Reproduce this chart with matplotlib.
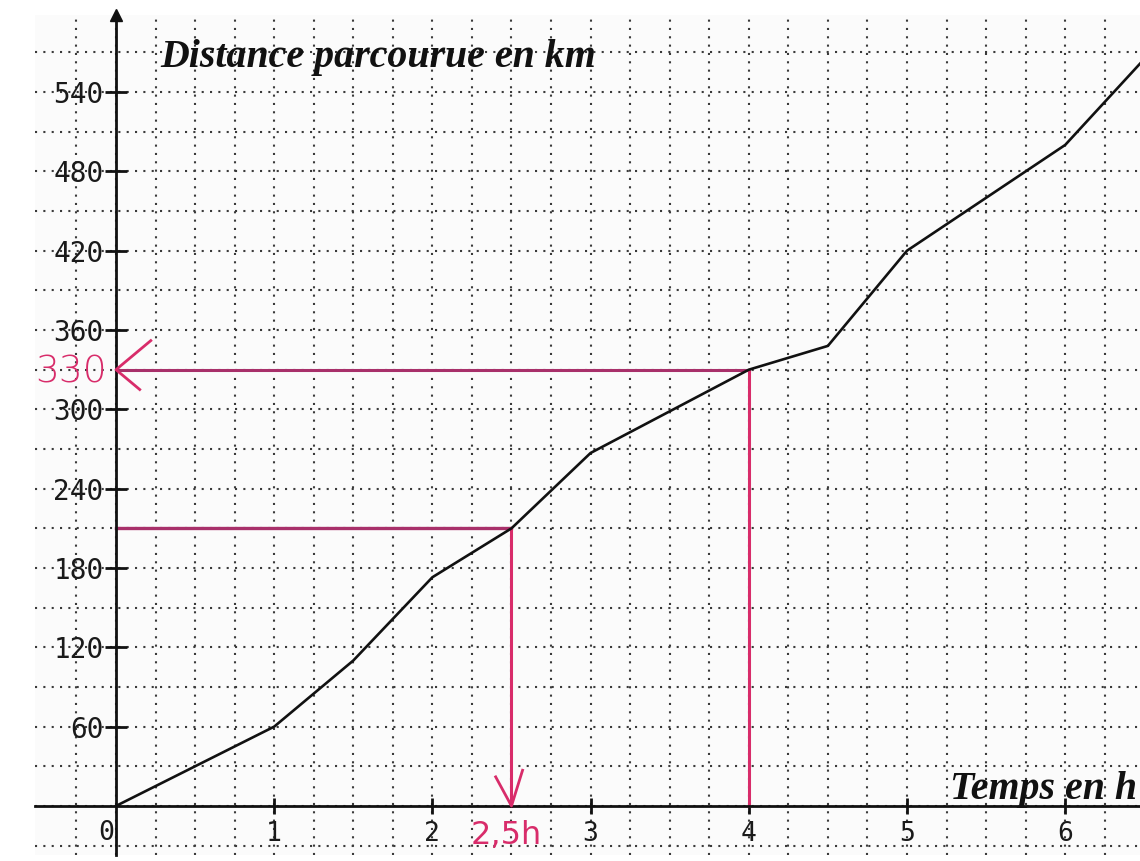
import numpy as np
import matplotlib
matplotlib.use("Agg")
import matplotlib.pyplot as plt
from matplotlib.ticker import FixedLocator

# ---- data ----
time_h = [0, 1, 1.5, 2, 2.5, 3, 4, 4.5, 5, 6, 6.5]
distance_km = [0, 60, 110, 173, 210, 267, 330, 348, 420, 500, 565]
x_tick_values = [1, 2, 3, 4, 5, 6]
y_tick_values = [60, 120, 180, 240, 300, 360, 420, 480, 540]
lookup_time = 4          # time read -> distance
lookup_distance = 330
answer_distance = 210    # distance read -> time
answer_time = 2.5

title_y = "Distance parcourue en km"
title_x = "Temps en h"
hand_dist_label = "330"
hand_time_label = "2,5h"

# ---- figure ----
W, H = 1140, 861
fig = plt.figure(figsize=(W / 100, H / 100), dpi=100)
fig.patch.set_facecolor("white")
ax = fig.add_axes([35 / W, 6 / H, 1 - 35 / W, (855 - 15) / H])
ax.set_facecolor("#fbfbfb")
ax.set_xlim(-0.512, 6.473)
ax.set_ylim(-37.1, 598.3)

# spines as crossing axes
for s in ("top", "right"):
    ax.spines[s].set_visible(False)
ax.spines["left"].set_position(("data", 0))
ax.spines["bottom"].set_position(("data", 0))
for s in ("left", "bottom"):
    ax.spines[s].set_linewidth(2.0)
    ax.spines[s].set_color("#111111")
    ax.spines[s].set_zorder(5)

# ticks
ax.xaxis.set_major_locator(FixedLocator(x_tick_values))
ax.yaxis.set_major_locator(FixedLocator(y_tick_values))
ax.xaxis.set_minor_locator(FixedLocator(np.arange(-0.25, 6.5, 0.25)))
ax.yaxis.set_minor_locator(FixedLocator(np.arange(-30, 600, 30)))
ax.tick_params(axis="x", which="major", direction="inout", length=11, width=2,
               color="#111111", pad=5, labelsize=19, labelcolor="#1a1a1a")
ax.tick_params(axis="y", which="major", direction="inout", length=16, width=2,
               color="#111111", pad=1, labelsize=20, labelcolor="#1a1a1a")
ax.tick_params(which="minor", length=0)
for lab in ax.get_xticklabels() + ax.get_yticklabels():
    lab.set_fontfamily("DejaVu Sans Mono")

# dotted grid
ax.set_axisbelow(True)
ax.grid(which="both", linestyle=(0, (1, 3)), linewidth=1.5, color="#3a3a3a")

# curve
ax.plot(time_h, distance_km, color="#111111", lw=1.9, zorder=4,
        solid_joinstyle="round")

# handwritten red reading lines
red = "#d82c6a"
purple = "#a8306a"
ax.plot([0, lookup_time], [lookup_distance, lookup_distance], color=purple, lw=2.2, zorder=3)
ax.plot([lookup_time, lookup_time], [0, lookup_distance], color=red, lw=2.2, zorder=3)
ax.plot([0, answer_time], [answer_distance, answer_distance], color=purple, lw=2.4, zorder=3)
ax.plot([answer_time, answer_time], [0, answer_distance], color=red, lw=2.2, zorder=3)

# arrowheads drawn by hand
ax.plot([0.22, 0.0, 0.15], [lookup_distance + 22, lookup_distance, lookup_distance - 15],
        color=red, lw=2.0, zorder=6, clip_on=False)
ax.plot([answer_time - 0.10, answer_time, answer_time + 0.07], [22, 0, 27],
        color=red, lw=2.0, zorder=6, clip_on=False)

# handwritten labels
ax.text(-0.51, lookup_distance - 2, hand_dist_label, color=red, fontsize=27,
        fontfamily="DejaVu Sans", fontweight="light", ha="left", va="center",
        clip_on=False, zorder=6)
ax.text(answer_time - 0.03, -22, hand_time_label, color=red, fontsize=23,
        fontfamily="DejaVu Sans", ha="center", va="center", clip_on=False, zorder=6)

# origin label
ax.text(-0.06, -20.5, "0", fontsize=19, fontfamily="DejaVu Sans Mono",
        color="#1a1a1a", ha="center", va="center")

# axis titles
ax.text(0.28, 559, title_y, fontfamily="Liberation Serif", fontstyle="italic",
        fontweight="bold", fontsize=28.7, color="#111111", ha="left", va="baseline", zorder=6)
ax.text(5.27, 5, title_x, fontfamily="Liberation Serif", fontstyle="italic",
        fontweight="bold", fontsize=28.7, color="#111111", ha="left", va="baseline", zorder=6)

# arrow tip of the vertical axis
ax.plot([0], [1.0], marker="^", ms=9, color="#111111",
        transform=ax.get_xaxis_transform(), clip_on=False, zorder=7)

fig.savefig("out.png", dpi=100, facecolor="white")
